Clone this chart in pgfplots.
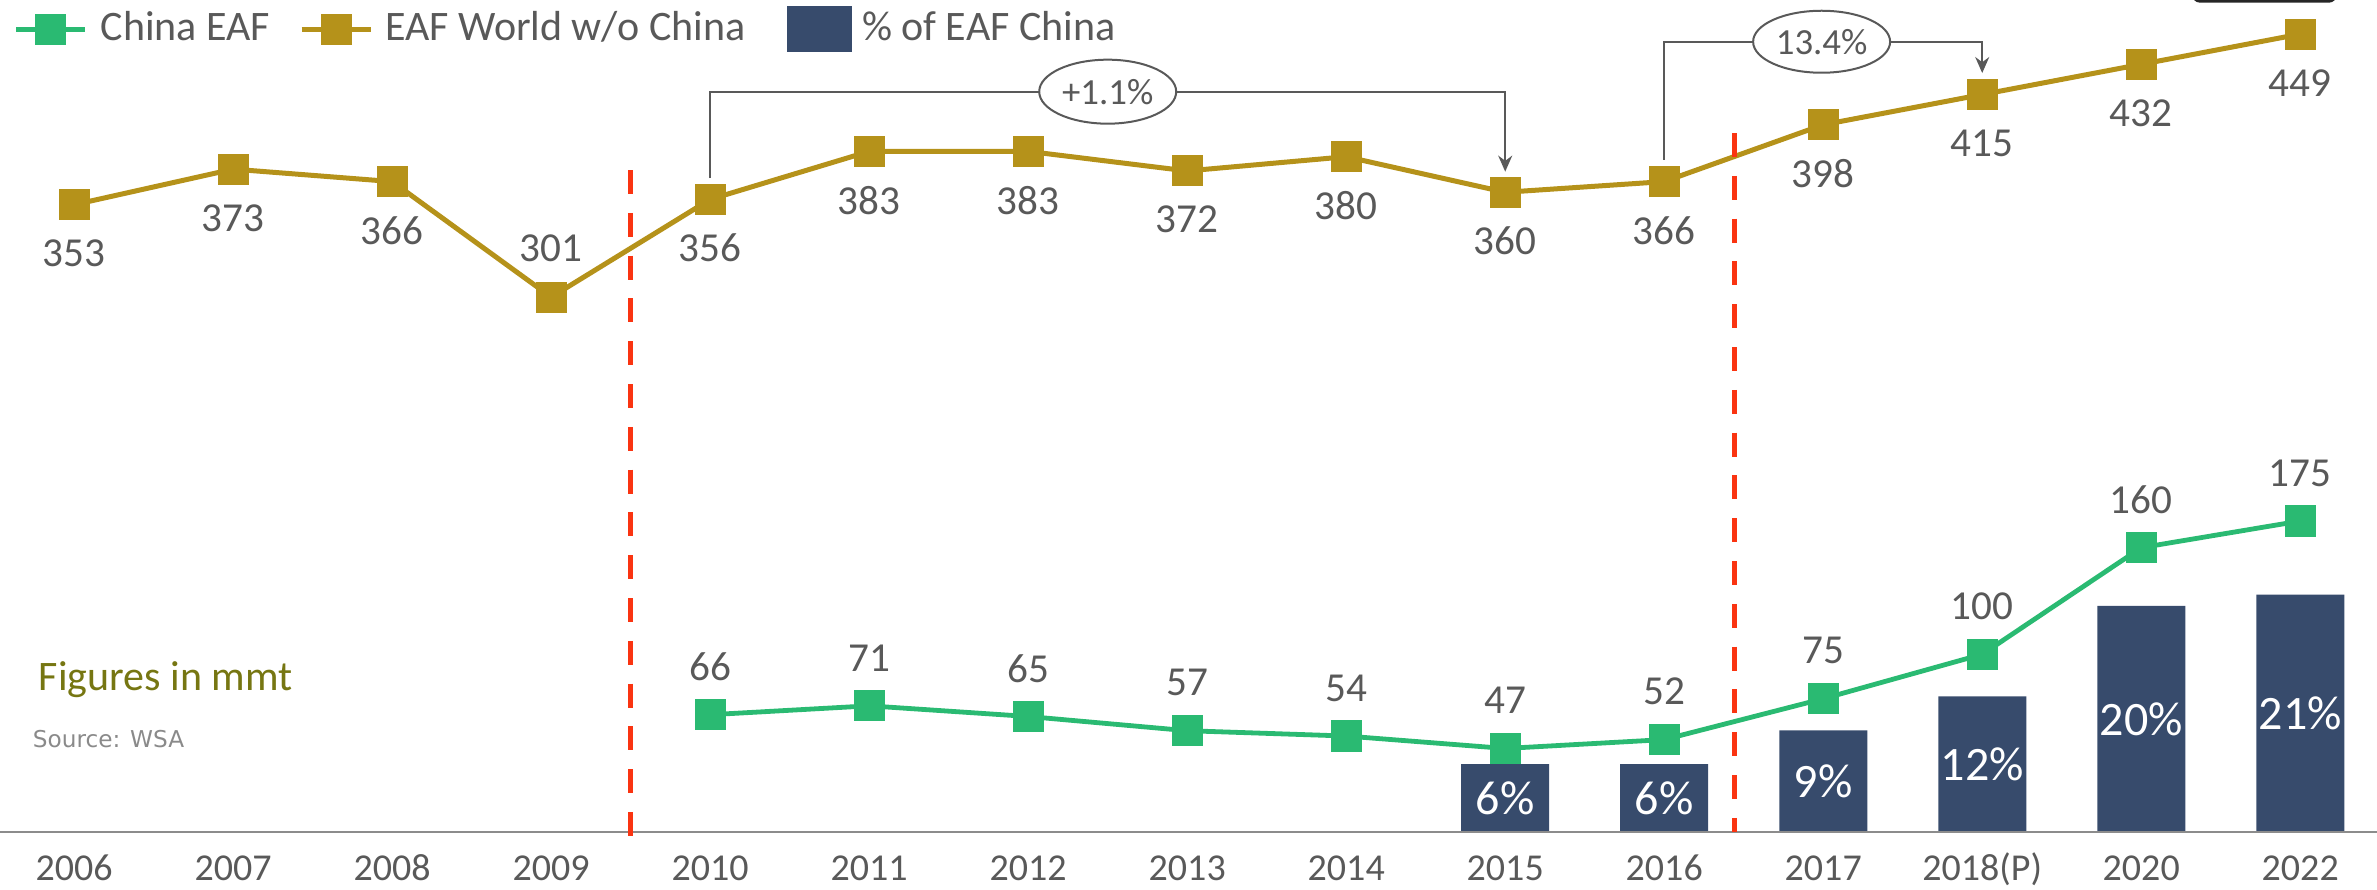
\documentclass[border=0pt]{standalone}
\usepackage{pgfplots}
\pgfplotsset{compat=1.18}
\usepackage{pgfplotstable}
\usepackage{fontspec}
\setmainfont{Carlito}
\newfontfamily\dejavu{DejaVu Sans}
\usetikzlibrary{shapes.geometric,arrows.meta}
\pgfkeys{/pgf/number format/assume math mode=true}

\definecolor{cgreen}{HTML}{2ABA72}
\definecolor{cgold}{HTML}{B5921A}
\definecolor{cnavy}{HTML}{374B6C}
\definecolor{cred}{HTML}{FA3411}
\definecolor{ctext}{HTML}{595959}
\definecolor{colive}{HTML}{767612}
\definecolor{caxis}{HTML}{8C8C8C}
\definecolor{csrc}{HTML}{8A8A8A}

\pgfplotstableread{
x val dy
0 353 -12.2
1 373 -12.2
2 366 -12.2
3 301 12.1
4 356 -12.2
5 383 -12.2
6 383 -12.2
7 372 -12.2
8 380 -12.2
9 360 -12.2
10 366 -12.2
11 398 -12.2
12 415 -12.2
13 432 -12.2
14 449 -12.2
}\worlddata

\pgfplotstableread{
x val
4 66
5 71
6 65
7 57
8 54
9 47
10 52
11 75
12 100
13 160
14 175
}\chinadata

\pgfplotstableread{
x pct
9 6
10 6
11 9
12 12
13 20
14 21
}\sharedata

\begin{document}
\begin{tikzpicture}
\pgfplotsset{
  base/.style={
    at={(0,0)}, anchor=south west,
    scale only axis, width=594.25pt, height=208pt,
    xmin=-0.4667, xmax=14.483,
    clip=false,
    /pgf/number format/assume math mode=true,
  }
}
% bars: share of EAF in China (secondary scale)
\begin{axis}[base, ymin=0, ymax=73.6, hide axis,
  ybar, bar width=22pt,
  nodes near coords={\pgfmathprintnumber[fixed,precision=0,assume math mode=true]{\pgfplotspointmeta}\%},
  visualization depends on=\thisrow{pct}\as\rawy,
  every node near coord/.append style={anchor=center, text=white, inner sep=0pt,
     font=\fontsize{12}{14}\selectfont, yshift={-1.4125pt*\rawy}},
]
\addplot[fill=cnavy, draw=none, bar shift=0pt] table[x=x,y=pct]{\sharedata};
\end{axis}

% lines
\begin{axis}[base, ymin=0, ymax=468.2,
  axis x line*=bottom, axis y line=none,
  x axis line style={-, draw=caxis, line width=0.6pt},
  xtick={0,...,14},
  xticklabels={2006,2007,2008,2009,2010,2011,2012,2013,2014,2015,2016,2017,2018(P),2020,2022},
  major tick length=0pt,
  xticklabel style={anchor=base, yshift=-12.25pt, text=ctext, font=\fontsize{9.5}{11}\selectfont},
  ytick=\empty,
  legend columns=3,
  legend cell align=left,
  legend style={at={(0,1)}, anchor=north west, xshift=3.5pt, yshift=-1.5pt,
    draw=none, fill=none, inner sep=0pt, outer sep=0pt,
    font=\fontsize{10.5}{12}\selectfont, text=ctext,
    nodes={inner sep=0pt},
    /tikz/column 1/.style={column sep=3.25pt},
    /tikz/column 2/.style={column sep=7.25pt},
    /tikz/column 3/.style={column sep=3pt},
    /tikz/column 4/.style={column sep=10.5pt},
    /tikz/column 5/.style={column sep=2.5pt}},
  legend image code/.code={\draw[mark repeat=2,mark phase=2,#1] plot coordinates {(0pt,0pt) (8.6pt,0pt) (17.25pt,0pt)};},
]
\addplot[cgreen, line width=1.2pt, mark=square*, mark size=3.3pt, mark options={solid},
  point meta=\thisrow{val},
  nodes near coords={\pgfmathprintnumber[assume math mode=true]{\pgfplotspointmeta}},
  every node near coord/.append style={anchor=center, yshift=12pt, text=ctext, inner sep=0pt,
     font=\fontsize{10.3}{12}\selectfont},
] table[x=x,y=val]{\chinadata};
\addlegendentry{China EAF}

\addplot[cgold, line width=1.25pt, mark=square*, mark size=3.25pt, mark options={solid},
  point meta=\thisrow{val},
  visualization depends on=\thisrow{dy}\as\dy,
  nodes near coords={\pgfmathprintnumber[assume math mode=true]{\pgfplotspointmeta}},
  every node near coord/.append style={anchor=center, yshift=\dy*1pt, text=ctext, inner sep=0pt,
     font=\fontsize{10.3}{12}\selectfont},
] table[x=x,y=val]{\worlddata};
\addlegendentry{EAF World w/o China}

\addlegendimage{legend image code/.code={\fill[cnavy] (0pt,-5.6pt) rectangle (15.75pt,5.6pt);}}
\addlegendentry{\% of EAF China}

% period separators
\draw[cred, line width=1.2pt, dash pattern=on 6pt off 4.7pt] (axis cs:3.5,372.5) -- (axis cs:3.5,-9.6);
\draw[cred, line width=1.2pt, dash pattern=on 6pt off 4.7pt] (axis cs:10.443,393.3) -- (axis cs:10.443,0);

% growth brackets
\draw[ctext, line width=0.5pt, -{Stealth[length=4pt,width=3.5pt]}] (axis cs:4,368) |- (axis cs:9,416.6) -- (axis cs:9,371.6);
\node[draw=ctext, fill=white, ellipse, line width=0.5pt, minimum width=34.25pt, minimum height=16pt,
  inner sep=0pt, text=ctext, font=\fontsize{9.2}{11}\selectfont] at (axis cs:6.5,416.6) {+1.1\%};
\draw[ctext, line width=0.5pt, -{Stealth[length=4pt,width=3.5pt]}] (axis cs:10,378.4) |- (axis cs:12,444.7) -- (axis cs:12,427.1);
\node[draw=ctext, fill=white, ellipse, line width=0.5pt, minimum width=34.25pt, minimum height=15.5pt,
  inner sep=0pt, text=ctext, font=\fontsize{9.2}{11}\selectfont] at (axis cs:10.99,444.7) {13.4\%};

% notes
\node[anchor=base west, text=colive, font=\fontsize{10.5}{12}\selectfont, inner sep=0pt] at (rel axis cs:0.016,0.1695) {Figures in mmt};
\node[anchor=base west, text=csrc, font=\dejavu\fontsize{5.8}{7}\selectfont, inner sep=0pt] at (rel axis cs:0.0135,0.101) {Source: WSA};

% cropped box edge at top right
\draw[black!85, line width=0.6pt, rounded corners=1.5pt] (axis cs:13.33,476) -- (axis cs:13.33,467.4) -- (axis cs:14.22,467.4) -- (axis cs:14.22,476);
\end{axis}
\pgfresetboundingbox
\useasboundingbox (0,-14.25pt) rectangle (594.25pt,208pt);
\end{tikzpicture}
\end{document}
